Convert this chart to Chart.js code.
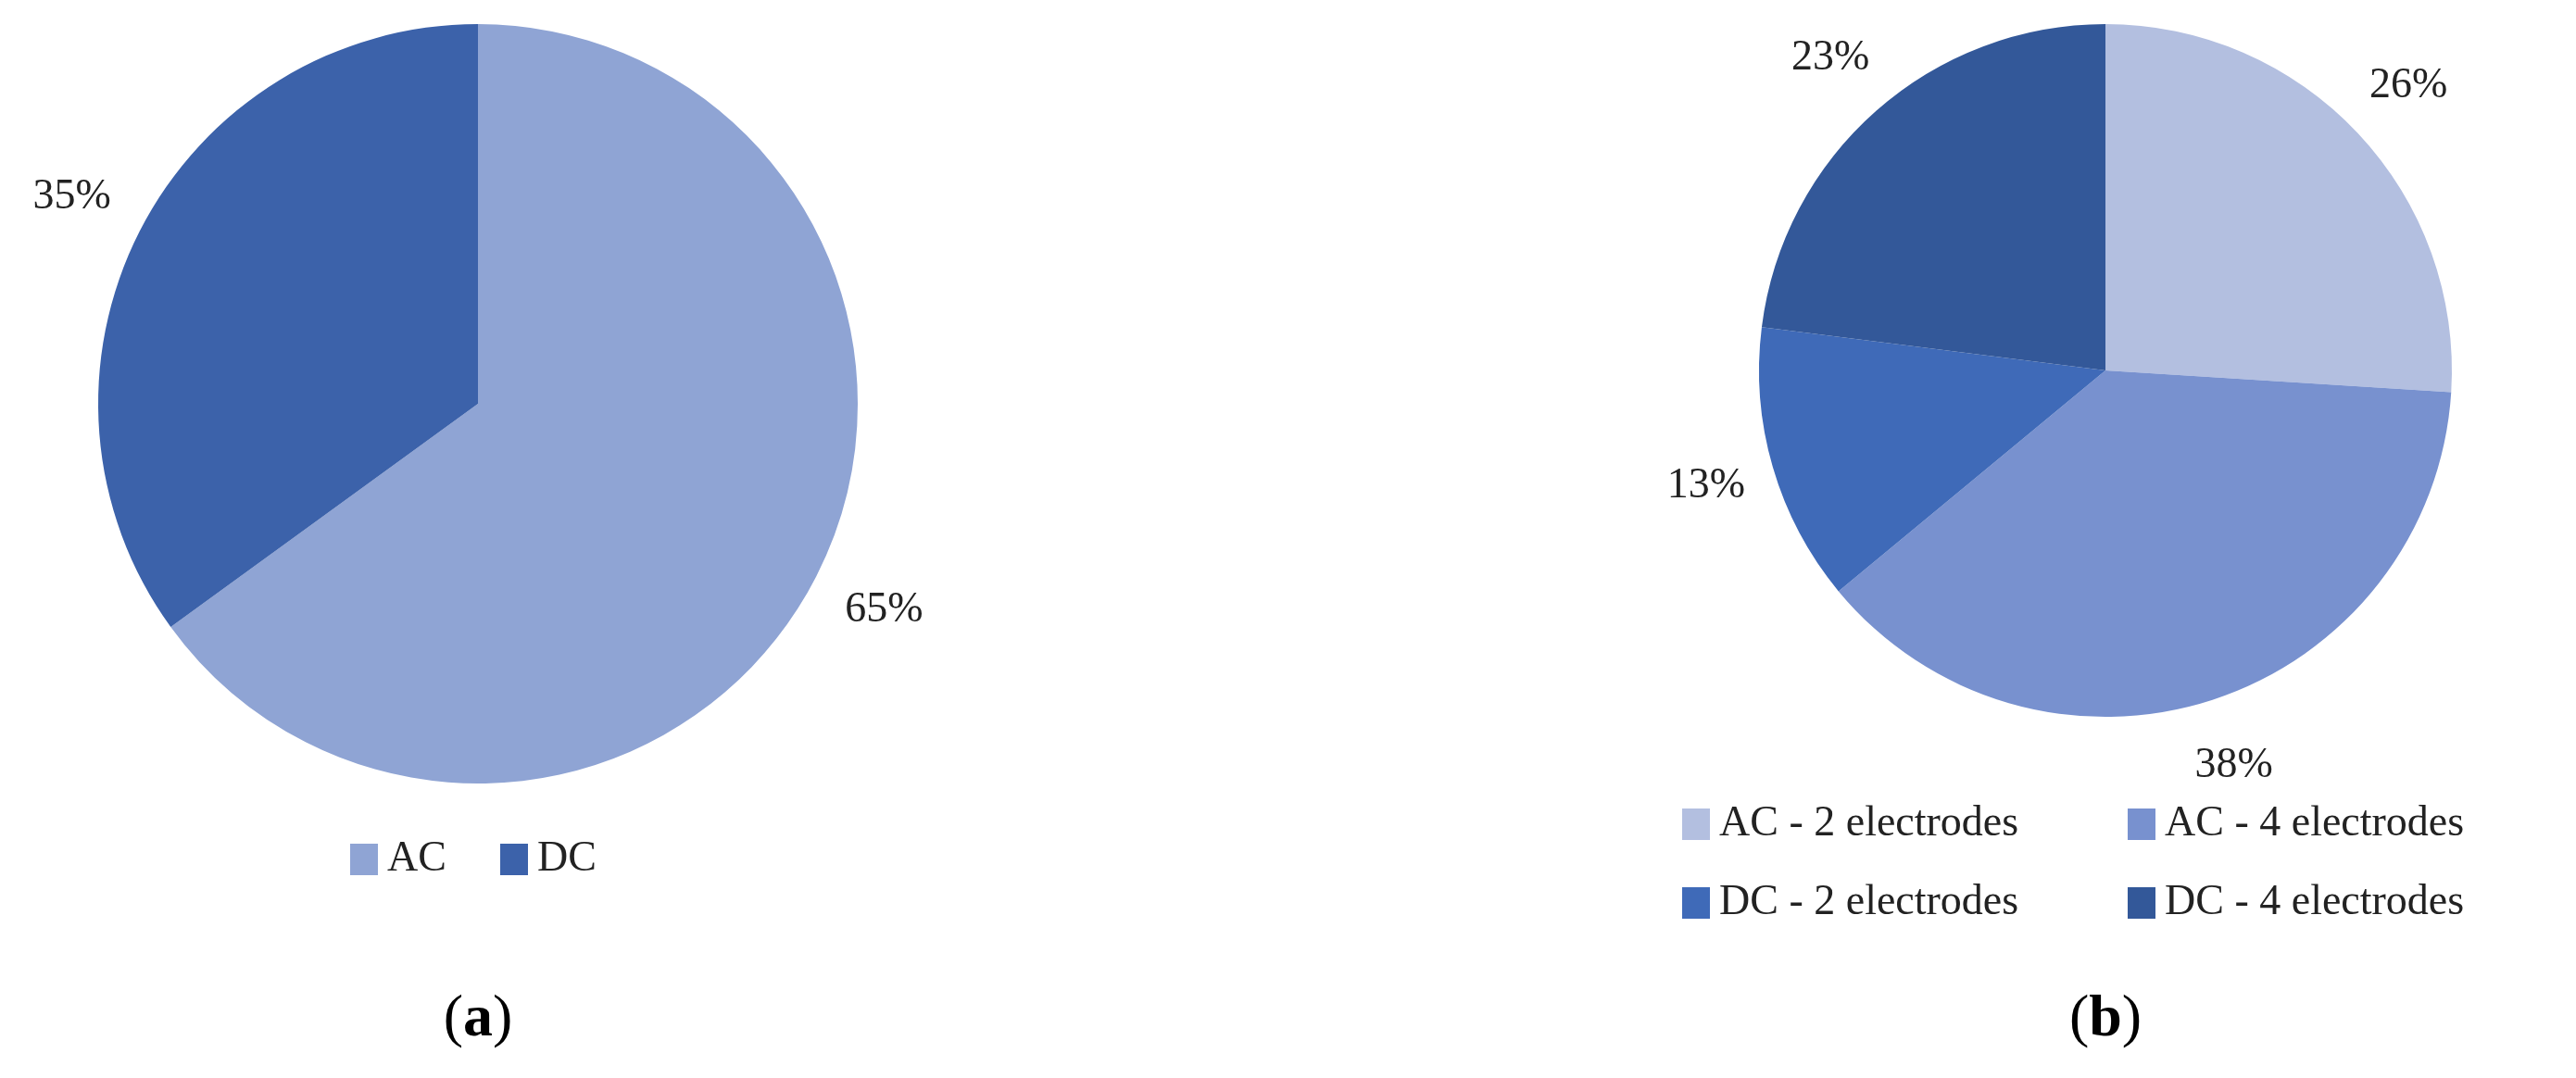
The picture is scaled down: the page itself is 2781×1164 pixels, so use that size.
<!DOCTYPE html>
<html lang="en">
<head>
<meta charset="UTF-8">
<title>Pies</title>
<script src="https://cdn.jsdelivr.net/npm/chart.js@4/dist/chart.umd.min.js"></script>
<style>
    body { margin: 0; background: #fff; width: 2781px; height: 1164px; position: relative; overflow: hidden; }
    canvas { position: absolute; top: 0; }
    .cap { position: absolute; top: 1060px; font: 64px "Liberation Serif", serif; transform: translateX(-50%); }
</style>
</head>
<body>
<canvas id="pieA"></canvas>
<canvas id="pieB"></canvas>
<div class="cap" style="left:516px">(<b>a</b>)</div>
<div class="cap" style="left:2273px">(<b>b</b>)</div>
<script>
    const labelsA = ["AC", "DC"];
    const valuesA = [65, 35];
    const colorsA = ["#8fa4d4", "#3c62aa"];

    const labelsB = ["AC - 2 electrodes", "AC - 4 electrodes", "DC - 2 electrodes", "DC - 4 electrodes"];
    const valuesB = [26, 38, 13, 23];
    const colorsB = ["#b3bfe0", "#7891cf", "#3f6ab8", "#335899"];

    const FONT = '46px "Liberation Serif", serif';

    // percent labels outside each slice
    const outsideLabels = {
        id: "outsideLabels",
        afterDatasetsDraw(chart) {
            const ctx = chart.ctx;
            const total = chart.data.datasets[0].data.reduce((a, b) => a + b, 0);
            ctx.save();
            ctx.font = FONT;
            ctx.fillStyle = "#222";
            ctx.textAlign = "center";
            ctx.textBaseline = "middle";
            chart.getDatasetMeta(0).data.forEach((arc, i) => {
                const mid = (arc.startAngle + arc.endAngle) / 2;
                const r = arc.outerRadius * 1.2;
                const v = chart.data.datasets[0].data[i];
                ctx.fillText(Math.round(v / total * 100) + "%", arc.x + Math.cos(mid) * r, arc.y + Math.sin(mid) * r);
            });
            ctx.restore();
        }
    };

    // legend drawn by hand so it can sit where the reference has it
    const handLegend = {
        id: "handLegend",
        afterDraw(chart, args, opts) {
            const ctx = chart.ctx;
            ctx.save();
            ctx.font = FONT;
            ctx.textBaseline = "middle";
            ctx.fillStyle = "#222";
            opts.items.forEach(item => {
                ctx.fillStyle = chart.data.datasets[0].backgroundColor[item.i];
                ctx.fillRect(item.x, item.y - 17, 30, 34);
                ctx.fillStyle = "#222";
                ctx.fillText(chart.data.labels[item.i], item.x + 40, item.y);
            });
            ctx.restore();
        }
    };

    function makePie(id, left, width, labels, values, colors, padding, items) {
        const canvas = document.getElementById(id);
        canvas.width = width;
        canvas.height = 1164;
        canvas.style.left = left + "px";
        return new Chart(canvas, {
            type: "pie",
            data: {
                labels: labels,
                datasets: [{ data: values, backgroundColor: colors, borderWidth: 0 }]
            },
            options: {
                responsive: false,
                animation: false,
                layout: { padding: padding },
                plugins: {
                    legend: { display: false },
                    tooltip: { enabled: false },
                    handLegend: { items: items }
                }
            },
            plugins: [outsideLabels, handLegend]
        });
    }

    makePie("pieA", 0, 1100, labelsA, valuesA, colorsA,
        { top: 26, bottom: 318, left: 106, right: 174 },
        [{ i: 0, x: 378, y: 928 }, { i: 1, x: 540, y: 928 }]);

    makePie("pieB", 1200, 1581, labelsB, valuesB, colorsB,
        { top: 26, bottom: 1164 - 26 - 748, left: 1073 - 374 - 0, right: 1581 - 1073 - 374 },
        [{ i: 0, x: 616, y: 890 }, { i: 1, x: 1097, y: 890 },
         { i: 2, x: 616, y: 975 }, { i: 3, x: 1097, y: 975 }]);
</script>
</body>
</html>
